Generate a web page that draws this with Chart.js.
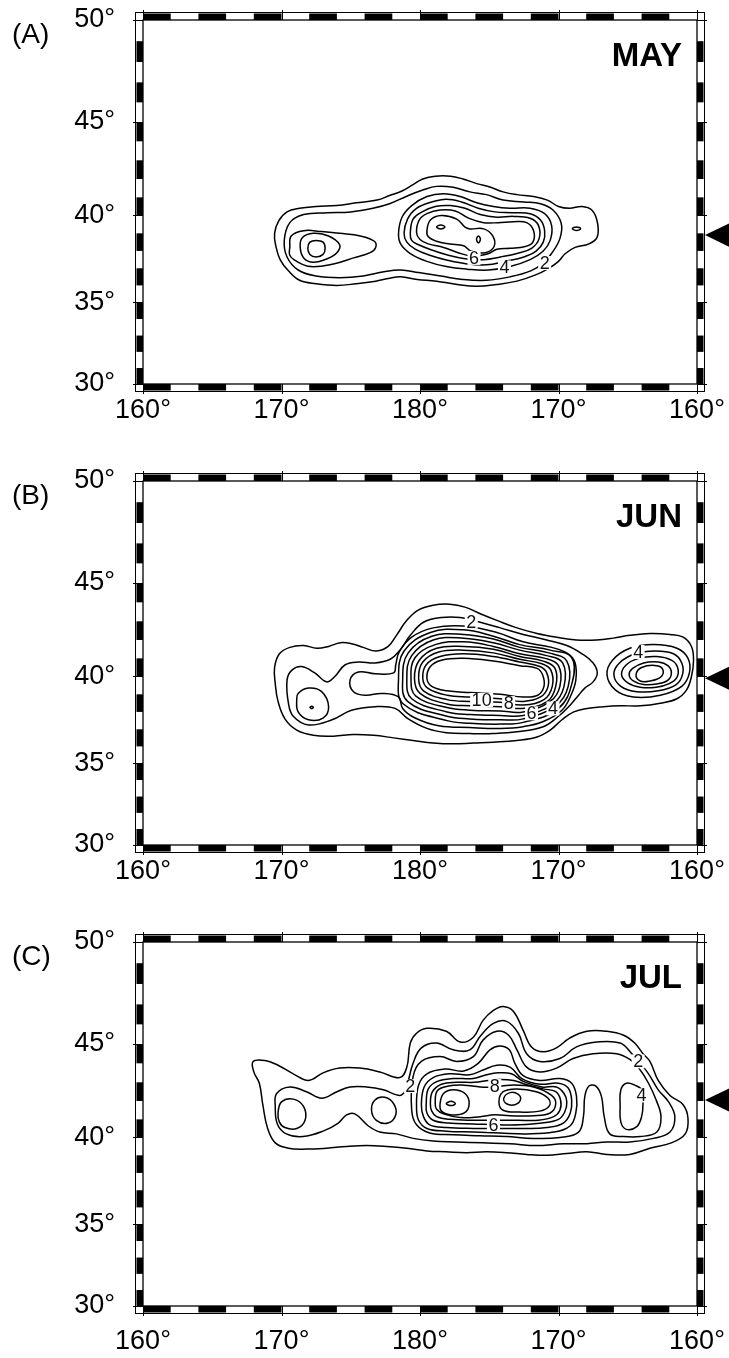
<!DOCTYPE html>
<html>
<head>
<meta charset="utf-8">
<script src="https://cdn.jsdelivr.net/npm/chart.js@4.4.0/dist/chart.umd.min.js"></script>
<style>
  body { margin: 0; background: #fff; }
  #wrap { position: relative; width: 729px; height: 1358px; }
  canvas { position: absolute; left: 0; }
</style>
</head>
<body>
<div id="wrap">
  <canvas id="mapA" width="729" height="461" style="top:0"></canvas>
  <canvas id="mapB" width="729" height="461" style="top:461px"></canvas>
  <canvas id="mapC" width="729" height="436" style="top:922px"></canvas>
</div>
<script>
// axes
const lonTicks = [160, 170, 180, 190, 200];
const lonLabels = ['160°', '170°', '180°', '170°', '160°'];
const latTicks = [30, 35, 40, 45, 50];
const latLabels = ['30°', '35°', '40°', '45°', '50°'];

// panel titles and the arrow on the right edge (latitude)
const months = ['MAY', 'JUN', 'JUL'];
const tags = ['(A)', '(B)', '(C)'];
const arrowLats = [38.9, 39.9, 42.05];

// ---- MAY contours [lon (0-360), lat] ----
const mayC1 = [[169.5,39.0],[169.8,39.7],[170.4,40.2],[171.3,40.4],[172.5,40.5],[174.0,40.55],[175.4,40.7],[176.9,40.85],[177.8,41.1],[178.7,41.35],[179.5,41.7],[180.2,42.0],[181.1,42.15],[182.2,42.15],[183.1,42.0],[184.1,41.75],[185.1,41.55],[186.0,41.3],[187.0,41.15],[188.2,41.05],[189.2,40.85],[190.0,40.5],[190.8,40.4],[191.7,40.5],[192.4,40.3],[192.8,39.65],[192.8,38.8],[192.2,38.4],[191.2,38.2],[190.5,37.85],[190.0,37.4],[189.3,37.0],[188.3,36.6],[187.0,36.25],[185.5,36.05],[184.1,35.95],[182.7,36.05],[181.2,36.25],[179.8,36.35],[178.6,36.5],[177.7,36.4],[176.8,36.25],[175.4,36.1],[174.0,36.0],[172.5,36.1],[171.3,36.3],[170.5,36.85],[169.9,37.5],[169.6,38.25]];
const mayC2 = [[170.6,39.6],[171.6,40.05],[173.3,40.15],[175.0,40.2],[176.6,40.4],[177.8,40.65],[179.0,41.05],[180.2,41.4],[181.2,41.6],[182.4,41.55],[183.6,41.3],[184.8,41.15],[186.0,40.85],[187.5,40.75],[188.7,40.65],[189.6,40.3],[190.2,39.55],[190.1,38.7],[189.5,37.85],[188.9,37.3],[188.0,36.85],[186.5,36.5],[184.8,36.3],[183.1,36.35],[181.5,36.55],[179.9,36.75],[178.6,36.9],[177.4,36.8],[175.9,36.55],[174.2,36.45],[172.5,36.55],[171.2,36.9],[170.4,37.65],[170.2,38.6]];
const mayC2dot = [[191.0,39.26],[191.3,39.36],[191.6,39.26],[191.3,39.16]];
const mayW3 = [[170.6,38.2],[170.7,38.85],[171.6,39.15],[172.9,39.1],[174.2,39.0],[175.7,38.85],[176.7,38.55],[176.8,38.2],[176.4,37.9],[175.2,37.6],[173.75,37.25],[172.1,37.1],[171.1,37.4],[170.6,37.75]];
const mayW4 = [[171.35,38.2],[171.5,38.75],[172.3,39.0],[173.4,38.85],[174.2,38.35],[174.0,37.9],[173.3,37.55],[172.3,37.35],[171.6,37.6]];
const mayW5 = [[171.9,38.15],[172.05,38.5],[172.5,38.6],[173.0,38.5],[173.15,38.15],[173.0,37.8],[172.5,37.65],[172.05,37.8]];
const mayE3 = [[178.45,39.0],[178.7,39.9],[179.4,40.55],[180.5,41.05],[181.7,41.2],[182.9,41.05],[184.1,40.7],[185.3,40.5],[186.5,40.4],[187.95,40.4],[189.0,40.1],[189.5,39.45],[189.4,38.6],[188.9,38.0],[187.95,37.5],[186.5,37.1],[184.95,36.9],[183.4,36.95],[181.9,37.1],[180.5,37.4],[179.3,37.85],[178.6,38.4]];
const mayE4 = [[178.85,39.0],[179.1,39.8],[179.75,40.4],[180.85,40.75],[181.9,40.9],[183.0,40.75],[184.2,40.4],[185.4,40.2],[186.6,40.15],[187.95,40.1],[188.7,39.75],[189.0,39.15],[188.9,38.5],[188.4,38.0],[187.5,37.65],[186.15,37.4],[184.8,37.2],[183.4,37.25],[182.05,37.45],[180.7,37.75],[179.65,38.1],[179.05,38.5]];
const mayE5 = [[179.3,39.0],[179.5,39.8],[180.15,40.2],[181.1,40.5],[182.2,40.55],[183.25,40.4],[184.35,40.05],[185.55,39.9],[186.75,39.95],[187.95,39.85],[188.55,39.45],[188.6,38.7],[188.05,38.15],[187.0,37.85],[185.8,37.65],[184.6,37.5],[183.25,37.55],[182.05,37.75],[180.85,38.05],[179.9,38.35],[179.4,38.6]];
const mayE6 = [[179.75,39.05],[179.95,39.75],[180.5,40.1],[181.45,40.3],[182.55,40.25],[183.5,39.85],[184.6,39.6],[185.65,39.6],[186.75,39.65],[187.7,39.6],[188.2,39.15],[188.15,38.5],[187.6,38.25],[186.5,38.15],[185.55,38.1],[184.95,37.85],[183.85,37.7],[182.75,37.9],[181.7,38.2],[180.6,38.4],[180.0,38.65]];
const mayE7 = [[180.5,39.15],[180.75,39.75],[181.55,40.0],[182.65,39.8],[183.25,39.35],[183.6,39.25],[184.6,39.25],[185.25,38.85],[185.35,38.25],[184.7,37.9],[183.65,38.0],[183.15,38.3],[182.15,38.4],[181.2,38.55],[180.6,38.8]];
const mayE8a = [[181.2,39.36],[181.5,39.47],[181.8,39.36],[181.5,39.25]];
const mayE8b = [[184.08,38.66],[184.22,38.85],[184.36,38.66],[184.22,38.47]];
const mayLabels = [[183.9,37.6,'6'],[186.1,37.05,'4'],[189.0,37.3,'2']];

// ---- JUN contours ----
const junL1 = [[169.5,40.5],[169.85,41.25],[170.6,41.6],[171.6,41.7],[172.55,41.55],[173.4,41.65],[174.25,41.85],[175.05,41.8],[175.9,41.6],[176.85,41.4],[177.7,41.65],[178.3,42.25],[179.05,43.05],[179.9,43.6],[180.95,43.85],[182.15,43.9],[183.25,43.75],[184.35,43.4],[185.55,43.05],[187.0,42.65],[188.45,42.35],[189.85,42.15],[191.3,42.0],[192.75,42.0],[193.95,42.1],[195.15,42.25],[196.6,42.35],[198.05,42.3],[199.0,42.15],[199.6,41.65],[199.75,40.9],[199.6,40.0],[199.25,39.25],[198.55,38.75],[197.35,38.5],[195.9,38.35],[194.45,38.35],[193.25,38.3],[192.05,38.2],[191.1,38.0],[190.25,37.55],[189.4,36.95],[188.45,36.55],[187.0,36.35],[185.3,36.25],[183.85,36.2],[182.4,36.15],[180.95,36.2],[179.5,36.35],[178.1,36.5],[176.65,36.65],[175.2,36.7],[173.75,36.6],[172.3,36.65],[171.1,36.95],[170.25,37.6],[169.75,38.6],[169.55,39.6]];
const junL2 = [[170.4,39.8],[170.75,40.35],[171.45,40.55],[172.4,40.2],[173.25,39.7],[173.85,40.0],[174.6,40.65],[175.55,40.8],[176.75,40.75],[177.85,40.95],[178.55,41.45],[179.3,42.25],[180.25,42.95],[181.55,43.2],[182.9,43.2],[184.35,42.95],[185.8,42.65],[187.45,42.3],[189.15,42.0],[190.6,41.7],[191.7,41.25],[192.5,40.75],[192.8,40.2],[192.5,39.7],[191.9,39.35],[191.45,38.95],[190.85,38.4],[190.0,37.75],[188.9,37.15],[187.0,36.85],[185.3,36.75],[183.6,36.75],[181.9,36.8],[180.5,37.05],[179.15,37.6],[178.2,38.2],[176.75,38.3],[175.05,38.1],[173.65,37.55],[171.95,37.25],[170.85,37.75],[170.5,38.5]];
const junW3 = [[171.2,39.05],[171.95,39.35],[172.9,39.15],[173.4,38.3],[173.0,37.65],[171.95,37.55],[171.2,38.0],[171.1,38.7]];
const junW4 = [[172.06,38.26],[172.18,38.33],[172.3,38.26],[172.18,38.19]];
const junL3 = [[179.4,42.15],[178.5,41.35],[178.25,40.65],[178.1,40.2],[176.75,40.15],[175.55,40.25],[174.95,39.8],[175.2,39.15],[176.05,38.95],[177.25,39.05],[178.45,38.85],[178.75,38.2],[179.65,37.65],[181.35,37.2],[183.6,37.1],[185.8,37.05],[187.45,37.15],[188.9,37.45],[190.25,38.1],[190.9,38.95],[191.25,39.8],[191.2,40.75],[190.7,41.25],[189.5,41.6],[187.45,41.9],[185.55,42.4],[183.15,42.75],[180.95,42.65]];
const junL4 = [[178.45,39.9],[178.85,41.4],[180.75,42.4],[183.15,42.55],[185.3,42.2],[187.2,41.75],[189.4,41.45],[190.95,41.05],[191.0,39.7],[190.0,38.2],[187.45,37.4],[185.8,37.3],[183.6,37.35],[181.95,37.5],[178.8,38.45]];
const junL5 = [[178.75,39.9],[179.15,41.3],[180.85,42.2],[183.15,42.3],[185.3,42.05],[187.2,41.6],[189.3,41.3],[190.6,40.85],[190.7,39.45],[189.8,38.35],[187.45,37.6],[185.8,37.55],[183.6,37.6],[181.95,37.75],[179.1,38.6]];
const junL6 = [[179.05,39.9],[179.4,41.15],[180.95,42.0],[183.15,42.1],[185.3,41.85],[187.2,41.45],[189.15,41.15],[190.3,40.75],[190.4,39.45],[189.6,38.45],[187.45,37.8],[185.8,37.8],[183.6,37.85],[181.95,38.0],[179.4,38.75]];
const junL7 = [[179.35,39.9],[179.65,41.05],[181.1,41.75],[183.15,41.9],[185.3,41.65],[187.2,41.25],[189.05,41.0],[190.0,40.6],[190.1,39.45],[189.4,38.6],[187.45,38.0],[185.8,38.05],[183.6,38.1],[181.95,38.25],[179.7,38.9]];
const junL8 = [[179.6,39.9],[179.95,40.9],[181.2,41.55],[183.15,41.65],[185.3,41.5],[187.2,41.1],[188.9,40.85],[189.75,40.45],[189.8,39.45],[189.2,38.6],[187.45,38.2],[185.8,38.3],[183.6,38.35],[181.95,38.45],[180.0,39.05]];
const junL9 = [[179.9,39.9],[180.2,40.8],[181.35,41.35],[183.15,41.45],[185.3,41.3],[187.2,40.95],[188.8,40.7],[189.45,40.35],[189.55,39.45],[188.95,38.7],[187.45,38.4],[185.8,38.55],[183.6,38.6],[181.95,38.7],[180.25,39.2]];
const junL10 = [[180.2,39.9],[180.45,40.65],[181.45,41.1],[183.15,41.25],[185.3,41.1],[187.2,40.8],[188.65,40.55],[189.15,40.2],[189.25,39.45],[188.7,38.85],[187.45,38.6],[185.8,38.75],[183.6,38.85],[181.95,38.95],[180.55,39.35]];
const junL11 = [[180.5,39.9],[180.75,40.55],[181.55,40.9],[183.15,41.0],[185.3,40.85],[187.2,40.6],[188.45,40.45],[188.85,40.1],[188.95,39.45],[188.5,38.95],[187.45,38.85],[185.8,39.0],[183.6,39.1],[181.95,39.2],[180.85,39.45]];
const junR2 = [[193.5,40.1],[193.9,40.9],[195.15,41.55],[196.85,41.75],[198.55,41.55],[199.35,41.0],[199.45,40.2],[198.9,39.45],[197.35,38.95],[195.4,38.85],[194.1,39.25]];
const junR3 = [[194.0,40.1],[194.4,40.75],[195.55,41.25],[196.95,41.4],[198.3,41.25],[198.9,40.75],[198.95,40.1],[198.5,39.55],[197.2,39.2],[195.65,39.15],[194.5,39.45]];
const junR4 = [[194.55,40.1],[194.9,40.65],[195.8,41.0],[197.1,41.1],[198.15,40.9],[198.6,40.5],[198.55,39.95],[198.0,39.6],[197.05,39.4],[195.9,39.4],[195.0,39.65]];
const junR5 = [[195.1,40.1],[195.35,40.45],[196.15,40.75],[197.2,40.8],[197.9,40.6],[198.15,40.2],[197.9,39.8],[197.2,39.6],[196.15,39.55],[195.4,39.75]];
const junR6 = [[195.6,40.1],[196.0,40.5],[197.1,40.6],[197.55,40.35],[197.35,39.95],[196.6,39.75],[195.9,39.75]];
const junLabels = [[183.7,42.98,'2'],[184.45,38.68,'10'],[186.4,38.5,'8'],[188.05,37.92,'6'],[189.6,38.2,'4'],[195.75,41.35,'4']];

// ---- JUL contours ----
const julL1 = [[167.95,44.1],[168.8,44.15],[169.75,43.9],[170.85,43.45],[171.95,43.1],[173.0,43.5],[174.2,43.75],[175.65,43.75],[177.1,43.55],[178.55,43.25],[179.05,43.8],[179.3,45.05],[179.75,45.55],[180.5,45.8],[181.9,45.65],[182.9,45.1],[183.85,45.35],[184.55,46.2],[185.3,46.7],[186.0,46.9],[186.75,46.65],[187.45,45.7],[188.05,44.85],[188.9,44.6],[189.85,44.8],[190.8,45.3],[192.05,45.65],[193.5,45.65],[194.7,45.45],[195.5,45.05],[196.1,44.5],[196.6,44.1],[197.2,43.1],[198.05,42.3],[199.0,41.8],[199.35,41.05],[199.15,40.2],[198.15,39.7],[196.6,39.4],[195.15,39.05],[193.5,39.05],[192.05,39.2],[190.6,39.1],[189.15,39.0],[187.7,39.05],[186.25,39.15],[184.8,39.2],[183.35,39.15],[181.9,39.2],[180.5,39.25],[179.05,39.4],[177.6,39.5],[176.15,39.55],[174.7,39.5],[173.25,39.4],[171.8,39.35],[170.5,39.4],[169.55,39.7],[169.0,40.5],[168.65,41.8],[168.4,42.95],[168.0,43.55]];
const julL2 = [[169.55,41.7],[169.65,42.4],[170.6,42.75],[171.8,42.5],[172.9,42.15],[174.0,42.5],[174.95,42.75],[176.15,42.75],[177.35,42.6],[178.55,42.3],[178.95,42.6],[179.5,44.0],[180.1,44.8],[181.2,45.05],[182.4,44.7],[183.6,44.7],[184.35,45.4],[185.3,46.05],[186.25,46.15],[187.1,45.55],[187.7,44.5],[188.65,44.1],[190.1,44.25],[191.3,44.85],[192.75,45.1],[194.45,45.05],[195.3,44.5],[195.9,44.0],[196.5,43.45],[197.2,42.6],[197.95,41.95],[198.4,41.15],[198.05,40.3],[196.85,39.95],[195.15,39.75],[193.5,39.75],[192.05,39.65],[190.35,39.65],[188.4,39.55],[186.5,39.65],[184.55,39.7],[182.65,39.75],[180.95,39.8],[179.5,39.95],[178.3,40.2],[177.1,40.3],[176.25,40.65],[175.3,41.3],[174.7,41.25],[174.1,40.8],[173.0,40.35],[171.55,40.05],[170.35,40.2],[169.7,40.75]];
const julW3a = [[169.75,41.35],[170.0,41.95],[170.85,42.1],[171.6,41.7],[171.7,40.95],[171.1,40.5],[170.25,40.55],[169.85,40.85]];
const julW3b = [[176.5,41.5],[176.75,42.05],[177.45,42.2],[178.1,41.85],[178.25,41.25],[177.7,40.8],[176.85,40.95]];
const julL3 = [[179.4,41.5],[179.5,43.3],[180.1,44.1],[181.45,44.35],[182.65,44.1],[183.85,44.35],[184.55,45.2],[185.55,45.65],[186.4,45.45],[187.0,44.7],[187.7,43.8],[188.65,43.55],[189.85,43.75],[191.05,44.25],[192.5,44.5],[194.2,44.5],[195.15,44.2],[195.9,43.65],[196.5,42.95],[197.05,42.05],[197.4,41.15],[197.1,40.3],[195.9,40.05],[194.7,40.05],[193.7,40.2],[193.3,41.15],[193.1,42.25],[192.7,42.8],[192.2,42.8],[191.9,42.25],[191.8,41.15],[191.45,40.3],[190.1,40.0],[188.2,39.95],[186.25,40.05],[184.35,40.1],[182.4,40.15],[180.7,40.25],[179.75,40.7]];
const julL4 = [[179.75,41.7],[179.9,42.85],[180.5,43.45],[181.8,43.7],[183.15,43.6],[184.2,44.0],[185.05,44.7],[185.75,44.9],[186.45,44.7],[186.85,44.0],[187.45,43.35],[188.65,43.1],[190.1,43.2],[190.95,42.95],[191.3,42.25],[191.25,41.35],[190.85,40.65],[189.65,40.3],[187.7,40.2],[185.75,40.25],[183.85,40.3],[181.9,40.35],[180.5,40.5],[179.9,40.95]];
const julE4 = [[194.45,41.7],[194.5,42.6],[194.9,42.95],[195.5,42.85],[196.0,42.6],[196.1,41.85],[196.0,41.15],[195.65,40.6],[194.9,40.45],[194.5,40.85]];
const julL5 = [[180.1,41.8],[180.3,42.75],[180.95,43.25],[182.15,43.45],[183.6,43.4],[184.55,43.65],[185.55,43.9],[186.5,43.8],[187.35,43.2],[188.65,42.9],[190.0,42.95],[190.7,42.7],[190.95,42.05],[190.85,41.35],[190.35,40.8],[189.15,40.55],[187.45,40.5],[185.75,40.5],[183.85,40.5],[181.9,40.55],[180.7,40.7],[180.25,41.15]];
const julL6 = [[180.45,41.85],[180.6,42.65],[181.25,43.05],[182.4,43.2],[183.85,43.2],[184.8,43.4],[185.65,43.5],[186.6,43.45],[187.45,43.05],[188.8,42.75],[189.85,42.75],[190.4,42.4],[190.6,41.95],[190.45,41.4],[190.0,41.0],[188.8,40.8],[187.2,40.7],[185.75,40.7],[183.85,40.75],[182.05,40.8],[180.95,40.95],[180.5,41.35]];
const julL7 = [[180.75,41.85],[180.9,42.5],[181.55,42.9],[182.65,43.0],[183.95,43.0],[184.95,43.1],[185.75,43.15],[186.75,43.1],[187.6,42.9],[188.9,42.65],[189.8,42.5],[190.15,42.05],[190.1,41.5],[189.65,41.15],[188.55,40.95],[187.1,40.95],[185.65,40.95],[183.85,40.95],[182.15,41.0],[181.2,41.15],[180.85,41.45]];
const julL8 = [[181.1,41.85],[181.25,42.55],[182.05,42.8],[183.15,42.85],[184.35,42.75],[185.4,42.75],[186.5,42.85],[188.2,42.75],[189.5,42.3],[189.8,41.85],[189.4,41.35],[188.2,41.2],[186.5,41.2],[185.4,41.25],[184.35,41.15],[182.9,41.1],[181.7,41.3],[181.2,41.55]];
const julL9a = [[181.45,41.85],[181.7,42.4],[182.4,42.6],[183.25,42.4],[183.55,41.85],[183.2,41.35],[182.2,41.25],[181.55,41.45]];
const julL9b = [[185.7,41.95],[186.0,42.5],[187.0,42.65],[188.4,42.5],[189.25,42.15],[189.35,41.75],[188.65,41.45],[187.2,41.4],[186.0,41.5]];
const julL10a = [[181.9,41.85],[182.25,41.98],[182.55,41.85],[182.25,41.75]];
const julL10b = [[186.05,42.15],[186.5,42.45],[187.1,42.35],[187.25,42.05],[186.85,41.8],[186.25,41.85]];
const julLabels = [[179.3,42.8,'2'],[195.75,44.1,'2'],[185.4,42.8,'8'],[185.3,40.7,'6'],[196.0,42.3,'4']];

const mayLines = [mayC1, mayC2, mayC2dot, mayW3, mayW4, mayW5, mayE3, mayE4, mayE5, mayE6, mayE7, mayE8a, mayE8b];
const junLines = [junL1, junL2, junW3, junW4, junL3, junL4, junL5, junL6, junL7, junL8, junL9, junL10, junL11, junR2, junR3, junR4, junR5, junR6];
const julLines = [julL1, julL2, julW3a, julW3b, julL3, julL4, julE4, julL5, julL6, julL7, julL8, julL9a, julL9b, julL10a, julL10b];

const FONT = '"Liberation Sans", Arial, Helvetica, sans-serif';

// Mercator y
const merc = lat => Math.log(Math.tan(Math.PI / 4 + lat * Math.PI / 360));

// closed loop: one extra point on each side so the spline closes smoothly
function contourSet(pts) {
  const p = pts.map(([lon, lat]) => ({ x: lon, y: merc(lat) }));
  const n = p.length;
  return {
    data: [p[n - 1]].concat(p, [p[0], p[1]]),
    showLine: true,
    borderColor: '#000',
    borderWidth: 1.5,
    pointRadius: 0,
    tension: 0.4,
    segment: {
      borderColor: c => (c.p0DataIndex === 0 || c.p0DataIndex === n + 1) ? 'rgba(0,0,0,0)' : '#000'
    }
  };
}

const mapFrame = {
  id: 'mapFrame',
  afterDatasetsDraw(chart, args, o) {
    const { ctx, scales: { x, y } } = chart;
    ctx.save();
    ctx.font = '18px ' + FONT;
    ctx.textAlign = 'center';
    ctx.textBaseline = 'middle';
    o.labels.forEach(([lon, lat, txt]) => {
      const px = x.getPixelForValue(lon), py = y.getPixelForValue(merc(lat));
      const w = ctx.measureText(txt).width + 3;
      ctx.fillStyle = '#fff';
      ctx.fillRect(px - w / 2, py - 7, w, 14);
      ctx.fillStyle = '#111';
      ctx.fillText(txt, px, py + 1);
    });
    ctx.restore();
  },
  afterDraw(chart, args, o) {
    const { ctx, chartArea: { left, right, top, bottom }, scales: { x, y } } = chart;
    const band = 8, bar = 6.5, tick = 10;
    ctx.save();
    // alternating frame bars
    ctx.fillStyle = '#000';
    for (let lon = 160; lon < 200; lon += 4) {
      const x0 = x.getPixelForValue(lon), x1 = x.getPixelForValue(lon + 2);
      ctx.fillRect(x0, top - bar, x1 - x0, bar);
      ctx.fillRect(x0, bottom, x1 - x0, bar);
    }
    for (let lat = 30; lat < 50; lat += 2) {
      const y0 = y.getPixelForValue(merc(lat)), y1 = y.getPixelForValue(merc(lat + 1));
      ctx.fillRect(left - bar, y1, bar, y0 - y1);
      ctx.fillRect(right, y1, bar, y0 - y1);
    }
    // outlines
    ctx.strokeStyle = '#000';
    ctx.lineWidth = 1;
    ctx.strokeRect(left - band + 0.5, top - band + 0.5, right - left + 2 * band - 1, bottom - top + 2 * band - 1);
    ctx.lineWidth = 1.3;
    ctx.strokeRect(left, top, right - left, bottom - top);
    // major ticks
    ctx.lineWidth = 1;
    ctx.beginPath();
    lonTicks.forEach(v => {
      const px = Math.round(x.getPixelForValue(v)) + 0.5;
      ctx.moveTo(px, top); ctx.lineTo(px, top - tick);
      ctx.moveTo(px, bottom); ctx.lineTo(px, bottom + tick);
    });
    latTicks.forEach(v => {
      const py = Math.round(y.getPixelForValue(merc(v))) + 0.5;
      ctx.moveTo(left, py); ctx.lineTo(left - tick, py);
      ctx.moveTo(right, py); ctx.lineTo(right + tick, py);
    });
    ctx.stroke();
    // arrow
    const ay = y.getPixelForValue(merc(o.arrowLat));
    ctx.beginPath();
    ctx.moveTo(right + band, ay);
    ctx.lineTo(right + band + 27, ay - 13);
    ctx.lineTo(right + band + 27, ay + 13);
    ctx.closePath();
    ctx.fill();
    // month and panel tag
    ctx.font = 'bold 33px ' + FONT;
    ctx.textAlign = 'right';
    ctx.textBaseline = 'alphabetic';
    ctx.fillText(o.month, right - 15, top + 46);
    ctx.font = '28px ' + FONT;
    ctx.textAlign = 'left';
    ctx.textBaseline = 'middle';
    ctx.fillText(o.tag, 12, top + 15);
    ctx.restore();
  }
};

function makeMap(id, lines, labels, i, xPad) {
  const canvas = document.getElementById(id);
  const H = canvas.height;
  new Chart(canvas, {
    type: 'scatter',
    data: { datasets: lines.map(contourSet) },
    options: {
      responsive: false,
      animation: false,
      events: [],
      layout: { padding: { left: 0, right: 32, top: 20, bottom: 0 } },
      plugins: {
        legend: { display: false },
        tooltip: { enabled: false },
        mapFrame: { labels: labels, month: months[i], tag: tags[i], arrowLat: arrowLats[i] }
      },
      scales: {
        x: {
          type: 'linear', min: 160, max: 200,
          afterBuildTicks: s => { s.ticks = lonTicks.map(v => ({ value: v })); },
          afterFit: s => { s.height = H - 384; s.paddingLeft = 0; s.paddingRight = 0; },
          ticks: { callback: (v, k) => lonLabels[k], color: '#000', padding: xPad, maxRotation: 0, autoSkip: false,
                   font: { family: FONT, size: 27 } },
          grid: { display: false, drawTicks: false },
          border: { display: false }
        },
        y: {
          type: 'linear', min: merc(30), max: merc(50),
          afterBuildTicks: s => { s.ticks = latTicks.map(v => ({ value: merc(v) })); },
          afterFit: s => { s.width = 143; s.paddingTop = 0; s.paddingBottom = 0; },
          ticks: { callback: (v, k) => latLabels[k], color: '#000', padding: 28, autoSkip: false,
                   font: { family: FONT, size: 27 } },
          grid: { display: false, drawTicks: false },
          border: { display: false }
        }
      }
    },
    plugins: [mapFrame]
  });
}

makeMap('mapA', mayLines, mayLabels, 0, 10);
makeMap('mapB', junLines, junLabels, 1, 10);
makeMap('mapC', julLines, julLabels, 2, 19);
</script>
</body>
</html>
